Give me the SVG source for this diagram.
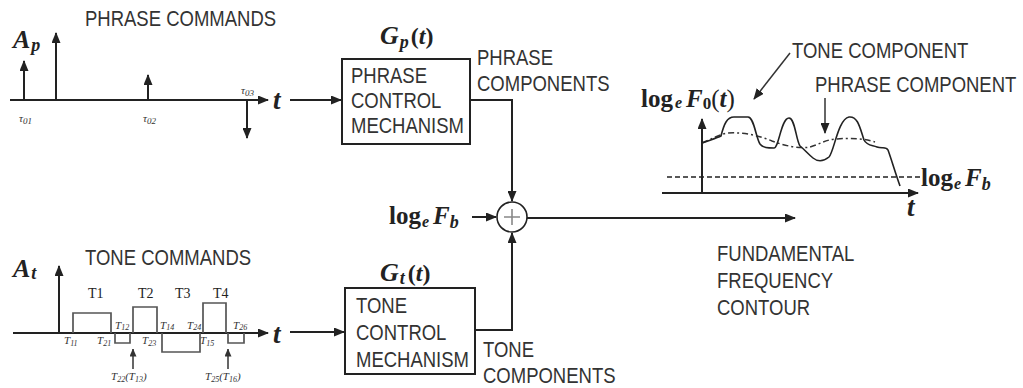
<svg xmlns="http://www.w3.org/2000/svg" width="1023" height="388" viewBox="0 0 1023 388">
<defs>
<marker id="ah" markerUnits="userSpaceOnUse" markerWidth="11" markerHeight="9" refX="10" refY="4.5" orient="auto">
<path d="M0,0 L11,4.5 L0,9 Z" fill="#222"/>
</marker>
<marker id="ahs" markerUnits="userSpaceOnUse" markerWidth="8" markerHeight="7" refX="7.5" refY="3.5" orient="auto">
<path d="M0,0 L8,3.5 L0,7 Z" fill="#333"/>
</marker>
</defs>
<style>
.ln{stroke:#222;stroke-width:2;fill:none}
.thin{stroke:#333;stroke-width:1.5;fill:none}
.pulse{stroke:#555;stroke-width:1.7;fill:none}
.box{stroke:#222;stroke-width:2;fill:#fff}
.sans{font-family:"Liberation Sans",Arial,sans-serif;font-size:18.5px;fill:#333}
.ser{font-family:"Liberation Serif","Times New Roman",serif;fill:#222}
.b{font-weight:bold}
.it{font-style:italic}
.sm{font-family:"Liberation Serif","Times New Roman",serif;font-size:11px;fill:#333}
</style>
<rect width="1023" height="388" fill="#fff"/>

<g id="phrase-commands">
<text class="sans" transform="translate(85,26) scale(1,1.2)">PHRASE COMMANDS</text>
<text class="ser it b" x="13" y="48" font-size="26">A<tspan font-size="18" dy="3" dx="1">p</tspan></text>
<line class="ln" x1="10" y1="100" x2="268" y2="100" marker-end="url(#ah)"/>
<line class="ln" x1="56" y1="100" x2="56" y2="33" marker-end="url(#ah)"/>
<line class="ln" x1="24" y1="100" x2="24" y2="61" marker-end="url(#ah)"/>
<line class="ln" x1="148" y1="100" x2="148" y2="75" marker-end="url(#ah)"/>
<line class="ln" x1="247" y1="100" x2="247" y2="138" marker-end="url(#ah)"/>
<text class="sm it" x="19" y="122" font-size="14">τ<tspan font-size="9" dy="2">01</tspan></text>
<text class="sm it" x="143" y="122" font-size="14">τ<tspan font-size="9" dy="2">02</tspan></text>
<text class="sm it" x="241" y="94" font-size="14">τ<tspan font-size="9" dy="2">03</tspan></text>
<text class="ser it b" x="273" y="109" font-size="27">t</text>
</g>

<g id="tone-commands">
<text class="sans" transform="translate(85,265) scale(1,1.2)">TONE COMMANDS</text>
<text class="ser it b" x="13" y="277" font-size="26">A<tspan font-size="18" dy="2" dx="1">t</tspan></text>
<line class="ln" x1="13" y1="333" x2="268" y2="333" marker-end="url(#ah)"/>
<line class="ln" x1="59" y1="333" x2="59" y2="266" marker-end="url(#ah)"/>
<path class="pulse" d="M73,333 V313 H111 V333 M115,333 V343 H130 V333 M133,333 V307 H157 V333 M162,333 V352 H200 V333 M203,333 V303 H226 V333 M228,333 V343 H244 V333"/>
<text class="ser" x="88" y="298" font-size="14" fill="#333">T1</text>
<text class="ser" x="138" y="298" font-size="14" fill="#333">T2</text>
<text class="ser" x="175" y="298" font-size="14" fill="#333">T3</text>
<text class="ser" x="213" y="298" font-size="14" fill="#333">T4</text>
<text class="sm it" x="64" y="344">T<tspan font-size="8" dy="2">11</tspan></text>
<text class="sm it" x="97" y="344">T<tspan font-size="8" dy="2">21</tspan></text>
<text class="sm it" x="115" y="329">T<tspan font-size="8" dy="1">12</tspan></text>
<text class="sm it" x="142" y="344">T<tspan font-size="8" dy="2">23</tspan></text>
<text class="sm it" x="160" y="329">T<tspan font-size="8" dy="1">14</tspan></text>
<text class="sm it" x="187" y="329">T<tspan font-size="8" dy="1">24</tspan></text>
<text class="sm it" x="200" y="344">T<tspan font-size="8" dy="2">15</tspan></text>
<text class="sm it" x="233" y="329">T<tspan font-size="8" dy="1">26</tspan></text>
<line class="thin" x1="133" y1="369" x2="133" y2="349" marker-end="url(#ahs)"/>
<line class="thin" x1="228" y1="369" x2="228" y2="349" marker-end="url(#ahs)"/>
<text class="sm it" x="111" y="380">T<tspan font-size="8" dy="2">22</tspan><tspan dy="-2">(T</tspan><tspan font-size="8" dy="2">13</tspan><tspan dy="-2">)</tspan></text>
<text class="sm it" x="205" y="380">T<tspan font-size="8" dy="2">25</tspan><tspan dy="-2">(T</tspan><tspan font-size="8" dy="2">16</tspan><tspan dy="-2">)</tspan></text>
<text class="ser it b" x="273" y="343" font-size="27">t</text>
</g>

<g id="phrase-control">
<text class="ser it b" x="380" y="44" font-size="26">G<tspan font-size="18" dy="4" dx="1">p</tspan><tspan font-size="24" dy="-4" dx="2" font-style="normal">(</tspan><tspan font-size="24">t</tspan><tspan font-size="24" font-style="normal">)</tspan></text>
<rect class="box" x="342" y="59" width="128" height="85"/>
<text class="sans" transform="translate(351,83) scale(1,1.2)">PHRASE</text>
<text class="sans" transform="translate(351,108) scale(1,1.2)">CONTROL</text>
<text class="sans" transform="translate(351,133) scale(1,1.2)">MECHANISM</text>
<text class="sans" transform="translate(477,65) scale(1,1.2)">PHRASE</text>
<text class="sans" transform="translate(477,91) scale(1,1.2)">COMPONENTS</text>
</g>

<g id="tone-control">
<text class="ser it b" x="380" y="281" font-size="26">G<tspan font-size="18" dy="3" dx="1">t</tspan><tspan font-size="24" dy="-3" dx="3" font-style="normal">(</tspan><tspan font-size="24">t</tspan><tspan font-size="24" font-style="normal">)</tspan></text>
<rect class="box" x="345" y="288" width="130" height="86"/>
<text class="sans" transform="translate(356,313) scale(1,1.2)">TONE</text>
<text class="sans" transform="translate(356,340) scale(1,1.2)">CONTROL</text>
<text class="sans" transform="translate(356,367) scale(1,1.2)">MECHANISM</text>
<text class="sans" transform="translate(483,357) scale(1,1.2)">TONE</text>
<text class="sans" transform="translate(483,383) scale(1,1.2)">COMPONENTS</text>
</g>

<g id="adder">
<circle cx="512" cy="217" r="15" stroke="#222" stroke-width="1.6" fill="#fff"/>
<path d="M504,217 H520 M512,209 V225" stroke="#888" stroke-width="1.6"/>
<text class="ser b" x="389" y="224" font-size="25">log<tspan class="it" font-size="16" dy="3" dx="1">e</tspan><tspan class="it" dy="-3" dx="4">F</tspan><tspan class="it" font-size="18" dy="4">b</tspan></text>
</g>

<g id="output-label">
<text class="sans" transform="translate(717,261) scale(1,1.2)">FUNDAMENTAL</text>
<text class="sans" transform="translate(717,288) scale(1,1.2)">FREQUENCY</text>
<text class="sans" transform="translate(717,315) scale(1,1.2)">CONTOUR</text>
</g>

<g id="f0-graph">
<text class="sans" transform="translate(792,58) scale(1,1.2)">TONE COMPONENT</text>
<text class="sans" transform="translate(815,92) scale(1,1.2)">PHRASE COMPONENT</text>
<text class="ser b" x="641" y="107" font-size="25">log<tspan class="it" font-size="16" dy="1" dx="2">e</tspan><tspan class="it" dy="-1" dx="4">F</tspan><tspan font-size="17" dy="2">0</tspan><tspan dy="-2" font-weight="normal">(</tspan><tspan class="it">t</tspan><tspan font-weight="normal">)</tspan></text>
<line class="thin" x1="790" y1="53" x2="754" y2="99" marker-end="url(#ah)"/>
<line class="thin" x1="825" y1="98" x2="825" y2="133" marker-end="url(#ah)"/>
<line class="ln" x1="702" y1="193" x2="702" y2="119" marker-end="url(#ah)"/>
<line class="ln" x1="662" y1="193" x2="918" y2="193" marker-end="url(#ah)"/>
<line x1="667" y1="177" x2="920" y2="177" stroke="#222" stroke-width="1.6" stroke-dasharray="5,3"/>
<path d="M702,143 C712,139 720,134 728,133 C745,132 760,136 772,141 C785,146 800,149 810,147 C820,144 825,140 835,139 C850,138 862,138 875,142" stroke="#333" stroke-width="1.5" fill="none" stroke-dasharray="6,3,2,3"/>
<path d="M702,143 C710,140 717,138 721,136 C724,124 727,117 734,117 L748,117 C754,117 756,138 760,144 C763,148 768,148 774,148 C779,148 781,118 789,118 C795,118 796,140 800,146 C805,150 808,154 813,158 C818,162 824,161 829,157 C834,152 838,119 849,117 C858,116 860,128 864,140 C867,146 872,145 877,147 C882,149 886,146 888,150 C891,158 895,172 900,186" stroke="#222" stroke-width="1.6" fill="none"/>
<text class="ser it b" x="907" y="216" font-size="27">t</text>
<text class="ser b" x="921" y="186" font-size="25">log<tspan class="it" font-size="16" dy="3" dx="1">e</tspan><tspan class="it" dy="-3" dx="4">F</tspan><tspan class="it" font-size="18" dy="4">b</tspan></text>
</g>

<g id="connectors">
<line class="ln" x1="290" y1="100" x2="341" y2="100" marker-end="url(#ah)"/>
<line class="ln" x1="290" y1="332" x2="344" y2="332" marker-end="url(#ah)"/>
<path class="ln" d="M470,100 H512 V201" marker-end="url(#ah)"/>
<path class="ln" d="M475,330 H512 V233" marker-end="url(#ah)"/>
<line class="ln" x1="472" y1="217" x2="496" y2="217" marker-end="url(#ah)"/>
<line class="ln" x1="527" y1="218" x2="795" y2="218" marker-end="url(#ah)"/>
</g>
</svg>
